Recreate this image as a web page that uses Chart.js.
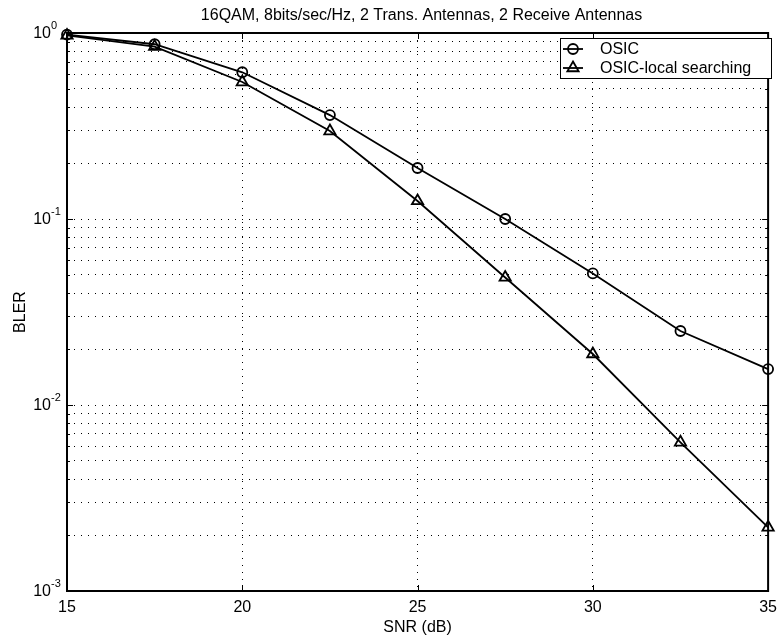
<!DOCTYPE html>
<html>
<head>
<meta charset="utf-8">
<title>BLER vs SNR</title>
<script src="https://cdn.jsdelivr.net/npm/chart.js@4.4.1/dist/chart.umd.min.js"></script>
<style>
  body { margin: 0; background: #fff; }
  #wrap { width: 784px; height: 637px; }
</style>
</head>
<body>
<div id="wrap"><canvas id="bler" width="784" height="637"></canvas></div>
<script>
// values
var snr = [15, 17.5, 20, 22.5, 25, 27.5, 30, 32.5, 35];
var osic = [0.98, 0.87, 0.615, 0.362, 0.188, 0.1, 0.051, 0.025, 0.0156];
var osicLocal = [0.97, 0.845, 0.545, 0.297, 0.125, 0.0485, 0.0188, 0.0063, 0.0022];

var seriesNames = ['OSIC', 'OSIC-local searching'];
var xTicks = [15, 20, 25, 30, 35];
var yDecades = [1, 0.1, 0.01, 0.001];
var yExponents = ['0', '-1', '-2', '-3'];

var chartTitle = '16QAM, 8bits/sec/Hz, 2 Trans. Antennas, 2 Receive Antennas';
var FONT = "'Liberation Sans', Arial, Helvetica, sans-serif";

function pts(ys) {
  return snr.map(function (v, i) { return { x: v, y: ys[i] }; });
}

// minor log grid: 1..9 of every decade
var yGrid = [];
yDecades.slice(1).forEach(function (d) {
  for (var k = 1; k < 10; k++) yGrid.push(+(d * k).toPrecision(3));
});
yGrid.push(1);

function isDecade(v) {
  return yDecades.some(function (d) { return Math.abs(d - v) < d * 1e-6; });
}

var decor = {
  id: 'decor',
  afterDraw: function (chart) {
    var ctx = chart.ctx, a = chart.chartArea;
    var x = chart.scales.x, y = chart.scales.y;
    ctx.save();
    ctx.strokeStyle = '#000';
    ctx.lineWidth = 1;
    ctx.beginPath();
    xTicks.forEach(function (v) {
      var px = Math.round(x.getPixelForValue(v)) + 0.5;
      ctx.moveTo(px, a.bottom); ctx.lineTo(px, a.bottom - 6);
      ctx.moveTo(px, a.top); ctx.lineTo(px, a.top + 6);
    });
    yGrid.forEach(function (v) {
      var py = Math.round(y.getPixelForValue(v)) + 0.5;
      var len = isDecade(v) ? 6 : 3;
      ctx.moveTo(a.left, py); ctx.lineTo(a.left + len, py);
      ctx.moveTo(a.right, py); ctx.lineTo(a.right - len, py);
    });
    ctx.stroke();

    ctx.lineWidth = 2;
    ctx.strokeRect(a.left, a.top, a.right - a.left, a.bottom - a.top);

    // y tick labels 10^n
    ctx.fillStyle = '#000';
    ctx.textBaseline = 'middle';
    yDecades.forEach(function (d, i) {
      var py = y.getPixelForValue(d);
      ctx.font = '16px ' + FONT;
      ctx.textAlign = 'right';
      ctx.fillText('10', a.left - 16, py + 1);
      ctx.font = '11px ' + FONT;
      ctx.textAlign = 'left';
      ctx.fillText(yExponents[i], a.left - 16, py - 7);
    });

    // title
    ctx.font = '16px ' + FONT;
    ctx.textAlign = 'center';
    ctx.fillText(chartTitle, (a.left + a.right) / 2 + 4, 16);

    // legend
    var bx = 560, by = 38, bw = 211, bh = 40;
    ctx.fillStyle = '#fff';
    ctx.fillRect(bx, by, bw, bh);
    ctx.lineWidth = 1;
    ctx.strokeStyle = '#000';
    ctx.strokeRect(bx + 0.5, by + 0.5, bw, bh);
    chart.data.datasets.forEach(function (ds, i) {
      var ry = by + 11 + i * 19;
      ctx.lineWidth = 1.8;
      ctx.beginPath();
      ctx.moveTo(bx + 3, ry); ctx.lineTo(bx + 23, ry);
      ctx.stroke();
      ctx.fillStyle = 'rgba(0,0,0,0)';
      Chart.helpers.drawPoint(ctx, {
        pointStyle: ds.pointStyle, radius: ds.pointRadius, borderWidth: 1.8, rotation: 0
      }, bx + 13, ry);
      ctx.fillStyle = '#000';
      ctx.font = '16px ' + FONT;
      ctx.textAlign = 'left';
      ctx.textBaseline = 'middle';
      ctx.fillText(ds.label, bx + 40, ry + 1);
    });
    ctx.restore();
  }
};

function lineSet(label, ys, style, r) {
  return {
    label: label,
    data: pts(ys),
    borderColor: '#000',
    borderWidth: 1.8,
    backgroundColor: 'transparent',
    pointStyle: style,
    pointRadius: r,
    pointBorderWidth: 1.8,
    pointBorderColor: '#000',
    pointBackgroundColor: 'transparent',
    tension: 0,
    clip: false
  };
}

new Chart(document.getElementById('bler'), {
  type: 'line',
  data: {
    datasets: [
      lineSet(seriesNames[0], osic, 'circle', 5),
      lineSet(seriesNames[1], osicLocal, 'triangle', 6.5)
    ]
  },
  options: {
    responsive: false,
    animation: false,
    layout: { padding: { top: 33, right: 11, left: 0, bottom: 0 } },
    plugins: { legend: { display: false }, title: { display: false }, tooltip: { enabled: false } },
    scales: {
      x: {
        type: 'linear',
        min: 15,
        max: 35,
        afterBuildTicks: function (s) { s.ticks = xTicks.map(function (v) { return { value: v }; }); },
        afterFit: function (s) { s.height = 46; },
        grid: { color: '#000', lineWidth: 1, drawTicks: false },
        border: { display: false, dash: [1, 6] },
        ticks: { color: '#000', font: { family: FONT, size: 16 }, padding: 7, maxRotation: 0 },
        title: { display: true, text: 'SNR (dB)', color: '#000', font: { family: FONT, size: 16 }, padding: { top: 0, bottom: 0 } }
      },
      y: {
        type: 'logarithmic',
        min: 0.001,
        max: 1,
        afterBuildTicks: function (s) { s.ticks = yGrid.map(function (v) { return { value: v }; }); },
        afterFit: function (s) { s.width = 67; },
        grid: { color: '#000', lineWidth: 1, drawTicks: false },
        border: { display: false, dash: [1, 6] },
        ticks: { display: false },
        title: { display: true, text: 'BLER', color: '#000', font: { family: FONT, size: 16 }, padding: { top: 11, bottom: 0 } }
      }
    }
  },
  plugins: [decor]
});
</script>
</body>
</html>
